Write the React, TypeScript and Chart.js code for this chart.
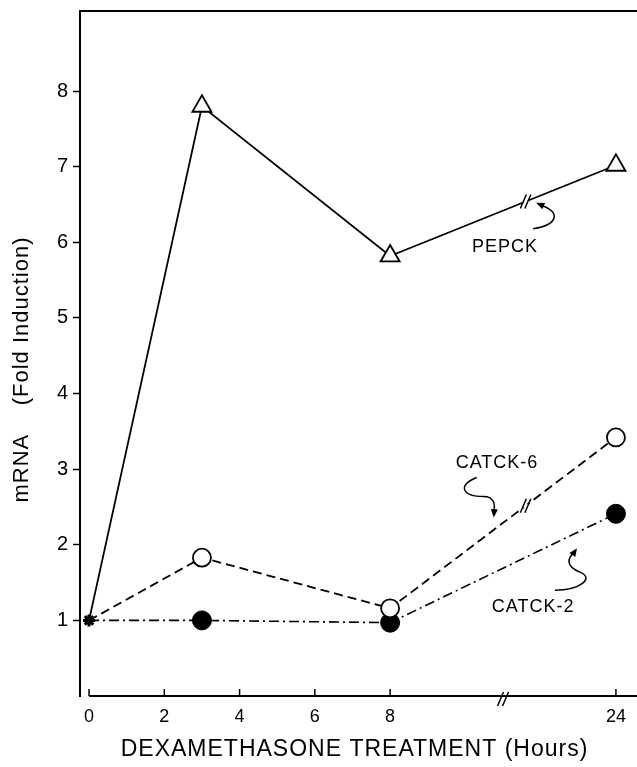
import { useEffect, useRef } from "react";
import { Chart, registerables } from "chart.js";
Chart.register(...registerables);

// ---- data ----
const hours = [0, 3, 8, 24];
const pepck = [1, 7.8, 5.82, 7.02];
const catck6 = [1, 1.83, 1.16, 3.42];
const catck2 = [1, 1.0, 0.97, 2.41];
const xTickHours = [0, 2, 4, 6, 8, 24];
const yTickValues = [1, 2, 3, 4, 5, 6, 7, 8];
const seriesNames = ["PEPCK", "CATCK-6", "CATCK-2"];
const xTitle = "DEXAMETHASONE TREATMENT (Hours)";
const yTitle = "mRNA    (Fold Induction)";

// broken axis: hours after 8 are compressed
const BREAK_AFTER = 8;
const COMPRESS = 6 / 16;
const axisPos = (h: number) => (h <= BREAK_AFTER ? h : BREAK_AFTER + (h - BREAK_AFTER) * COMPRESS);
const AXIS_BREAK_POS = 11;
const LINE_BREAK_POS = 11.6;

const FONT = "'Liberation Sans', Arial, sans-serif";

const toPts = (vals: number[]) => hours.map((h, i) => ({ x: axisPos(h), y: vals[i] }));

function slashes(ctx: CanvasRenderingContext2D, x: number, y: number, gap: number, dx: number, dy: number, lw: number) {
  ctx.save();
  ctx.strokeStyle = "#000";
  ctx.lineWidth = lw;
  for (const off of [-gap / 2, gap / 2]) {
    ctx.beginPath();
    ctx.moveTo(x + off - dx, y + dy);
    ctx.lineTo(x + off + dx, y - dy);
    ctx.stroke();
  }
  ctx.restore();
}

function arrowHead(ctx: CanvasRenderingContext2D, fx: number, fy: number, tx: number, ty: number) {
  const a = Math.atan2(ty - fy, tx - fx);
  const L = 9, W = 0.4;
  ctx.beginPath();
  ctx.moveTo(tx, ty);
  ctx.lineTo(tx - L * Math.cos(a - W), ty - L * Math.sin(a - W));
  ctx.lineTo(tx - L * Math.cos(a + W), ty - L * Math.sin(a + W));
  ctx.closePath();
  ctx.fill();
}

const zeroPad = (s: any) => {
  s.paddingTop = 0;
  s.paddingBottom = 0;
  s.paddingLeft = 0;
  s.paddingRight = 0;
};

const decorations = {
  id: "decorations",
  afterDraw(chart: any) {
    const { ctx, chartArea } = chart;
    const xs = chart.scales.x;
    const ys = chart.scales.y;
    const px = (v: number) => xs.getPixelForValue(v);
    const py = (v: number) => ys.getPixelForValue(v);
    ctx.save();
    ctx.strokeStyle = "#000";
    ctx.fillStyle = "#000";
    // top frame line
    ctx.lineWidth = 2;
    ctx.beginPath();
    ctx.moveTo(chartArea.left, chartArea.top);
    ctx.lineTo(chartArea.right, chartArea.top);
    ctx.stroke();
    // x axis line from 0 with inward ticks
    const yb = chartArea.bottom;
    ctx.beginPath();
    ctx.moveTo(px(0), yb);
    ctx.lineTo(chartArea.right, yb);
    ctx.stroke();
    ctx.lineWidth = 1.5;
    xTickHours.forEach((h) => {
      ctx.beginPath();
      ctx.moveTo(px(axisPos(h)), yb);
      ctx.lineTo(px(axisPos(h)), yb - 7);
      ctx.stroke();
    });
    // axis break
    slashes(ctx, px(AXIS_BREAK_POS), yb + 3, 5, 3, 7, 1.5);

    // line breaks on PEPCK and CATCK-6 between 8 and 24 h
    [0, 1].forEach((di) => {
      const pts = chart.getDatasetMeta(di).data;
      const a = pts[2], b = pts[3];
      const x = px(LINE_BREAK_POS);
      const t = (x - a.x) / (b.x - a.x);
      const y = a.y + (b.y - a.y) * t;
      ctx.save();
      ctx.fillStyle = "#fff";
      ctx.beginPath();
      ctx.arc(x, y, 2.5, 0, Math.PI * 2);
      ctx.fill();
      ctx.restore();
      slashes(ctx, x, y, 4.5, 3, 7, 1.5);
    });

    // labels
    ctx.font = `18px ${FONT}`;
    (ctx as any).letterSpacing = "1px";
    ctx.textAlign = "center";
    ctx.textBaseline = "middle";
    const labelAnchors = [
      { x: 11.05, y: 5.94 },
      { x: 10.84, y: 3.08 },
      { x: 11.8, y: 1.18 },
    ];
    seriesNames.forEach((n, i) => ctx.fillText(n, px(labelAnchors[i].x), py(labelAnchors[i].y)));

    // curly arrows
    ctx.lineWidth = 1.5;
    // PEPCK
    {
      const ox = px(11.8), oy = py(6.18);
      ctx.beginPath();
      ctx.moveTo(ox, oy);
      ctx.bezierCurveTo(ox + 26, oy - 4, ox + 28, oy - 18, ox + 6, oy - 24);
      ctx.stroke();
      arrowHead(ctx, ox + 14, oy - 21, ox + 3, oy - 26);
    }
    // CATCK-6
    {
      const ox = px(10.3), oy = py(2.89);
      ctx.beginPath();
      ctx.moveTo(ox, oy);
      ctx.bezierCurveTo(ox - 20, oy + 8, ox - 14, oy + 19, ox + 7, oy + 19);
      ctx.bezierCurveTo(ox + 17, oy + 19, ox + 19, oy + 27, ox + 17, oy + 34);
      ctx.stroke();
      arrowHead(ctx, ox + 18, oy + 28, ox + 17, oy + 40);
    }
    // CATCK-2
    {
      const ox = px(12.38), oy = py(1.4);
      ctx.beginPath();
      ctx.moveTo(ox, oy);
      ctx.bezierCurveTo(ox + 25, oy, ox + 40, oy - 12, ox + 25, oy - 18);
      ctx.bezierCurveTo(ox + 10, oy - 24, ox + 13, oy - 32, ox + 19, oy - 38);
      ctx.stroke();
      arrowHead(ctx, ox + 16, oy - 33, ox + 22, oy - 42);
    }

    // axis titles
    ctx.font = `23px ${FONT}`;
    (ctx as any).letterSpacing = "1px";
    ctx.fillText(xTitle, (chartArea.left + chartArea.right) / 2 - 4, 750);
    ctx.save();
    ctx.translate(22, (chartArea.top + chartArea.bottom) / 2 + 16);
    ctx.rotate(-Math.PI / 2);
    ctx.font = `22px ${FONT}`;
    (ctx as any).letterSpacing = "1px";
    ctx.fillText(yTitle, 0, 0);
    ctx.restore();
    ctx.restore();
  },
};

export default function App() {
  const ref = useRef<HTMLCanvasElement>(null);
  useEffect(() => {
    if (!ref.current) return;
    const chart = new Chart(ref.current, {
      type: "scatter",
      data: {
        datasets: [
          {
            label: seriesNames[0],
            data: toPts(pepck),
            showLine: true,
            borderColor: "#000",
            borderWidth: 1.8,
            pointStyle: ["star", "triangle", "triangle", "triangle"],
            pointRadius: [6, 11, 11, 11],
            pointBackgroundColor: "#fff",
            pointBorderColor: "#000",
            pointBorderWidth: [3, 1.8, 1.8, 1.8],
          },
          {
            label: seriesNames[1],
            data: toPts(catck6),
            showLine: true,
            borderColor: "#000",
            borderWidth: 1.8,
            borderDash: [9, 5],
            pointStyle: "circle",
            pointRadius: [0, 9, 9, 9],
            pointBackgroundColor: "#fff",
            pointBorderColor: "#000",
            pointBorderWidth: 1.8,
          },
          {
            label: seriesNames[2],
            data: toPts(catck2),
            showLine: true,
            borderColor: "#000",
            borderWidth: 1.6,
            borderDash: [10, 4, 2, 4],
            pointStyle: "circle",
            pointRadius: [0, 9.5, 9.5, 9.5],
            pointBackgroundColor: "#000",
            pointBorderColor: "#000",
            pointBorderWidth: 1,
          },
        ],
      },
      options: {
        responsive: false,
        animation: false,
        layout: { autoPadding: false, padding: { top: 11, left: 0, right: 0, bottom: 0 } },
        plugins: { legend: { display: false }, tooltip: { enabled: false } },
        scales: {
          x: {
            type: "linear",
            min: -0.24,
            max: 14.56,
            afterFit: (s: any) => {
              s.height = 71;
              zeroPad(s);
            },
            afterBuildTicks: (s: any) => {
              s.ticks = xTickHours.map((h) => ({ value: axisPos(h) }));
            },
            grid: { display: false, drawTicks: false },
            border: { display: false },
            ticks: {
              padding: 10,
              color: "#000",
              font: { family: FONT, size: 18 },
              maxRotation: 0,
              callback: (v: any) => {
                const i = xTickHours.findIndex((h) => Math.abs(axisPos(h) - v) < 1e-6);
                return i >= 0 ? String(xTickHours[i]) : "";
              },
            },
          },
          y: {
            type: "linear",
            min: 0,
            max: 9.06,
            afterFit: (s: any) => {
              s.width = 80;
              zeroPad(s);
            },
            afterBuildTicks: (s: any) => {
              s.ticks = yTickValues.map((v) => ({ value: v }));
            },
            grid: { drawOnChartArea: false, tickLength: 7, tickColor: "#000", tickWidth: 1.5 },
            border: { display: true, color: "#000", width: 2 },
            ticks: {
              padding: 5,
              color: "#000",
              font: { family: FONT, size: 20 },
              callback: (v: any) => String(v),
            },
          },
        },
      },
      plugins: [decorations],
    } as any);
    return () => chart.destroy();
  }, []);
  return (
    <div style={{ position: "absolute", left: 0, top: 0, width: 637, height: 767, background: "#fff" }}>
      <canvas ref={ref} width={637} height={767} />
    </div>
  );
}
